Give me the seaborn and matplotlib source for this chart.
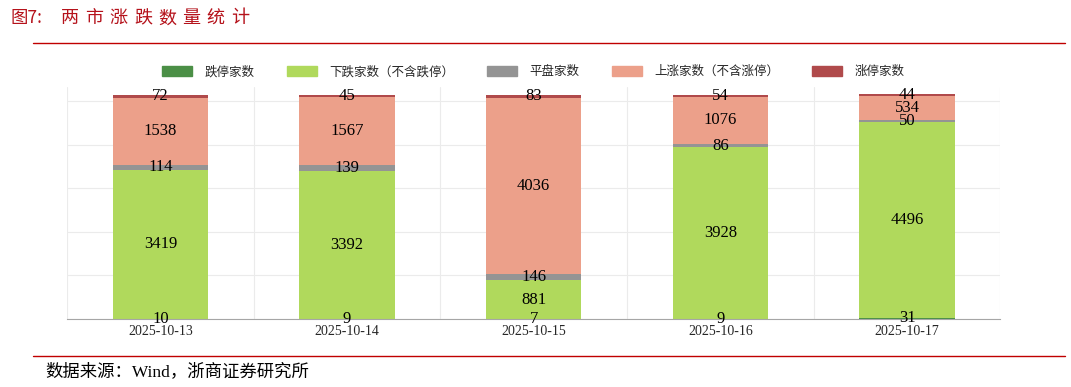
import numpy as np
import pandas as pd
import matplotlib.pyplot as plt
from matplotlib.patches import Patch
import seaborn as sns

dates = ["2025-10-13", "2025-10-14", "2025-10-15", "2025-10-16", "2025-10-17"]
limit_down = [10, 9, 7, 9, 31]
down = [3419, 3392, 881, 3928, 4496]
flat = [114, 139, 146, 86, 50]
up = [1538, 1567, 4036, 1076, 534]
limit_up = [72, 45, 83, 54, 44]

series_names = ["跌停家数", "下跌家数（不含跌停）", "平盘家数", "上涨家数（不含涨停）", "涨停家数"]
colors = ["#4b8f46", "#b0d95c", "#949494", "#eca08a", "#b04a4b"]

sns.set_style("white")
plt.rcParams['font.family'] = ['Liberation Serif', 'Noto Sans CJK SC']

fig = plt.figure(figsize=(10.71, 3.87), dpi=100)
ax = fig.add_axes([0.0626, 0.1757, 0.8715, 0.60])

# stacked bars, bottom up
layers = [limit_down, down, flat, up, limit_up]
bottom = np.zeros(len(dates))
for vals, name, col in zip(layers, series_names, colors):
    df = pd.DataFrame({"date": dates, "v": vals})
    sns.barplot(data=df, x="date", y="v", color=col, width=0.51,
                bottom=bottom, ax=ax, saturation=1, linewidth=0)
    for i, v in enumerate(vals):
        ax.text(i, bottom[i] + v / 2, str(v), ha="center", va="center",
                fontsize=12, color="black", family="Liberation Serif")
    bottom = bottom + np.array(vals)

ax.set_ylim(0, 5330)
ax.set_xlim(-0.5, len(dates) - 0.5)
ax.set_yticks(np.arange(0, 6000, 1000))
ax.set_yticklabels([])
ax.tick_params(axis="y", length=0)
ax.set_xticks(np.arange(-0.5, len(dates), 1), minor=True)
ax.tick_params(axis="x", which="both", length=0, labelsize=10, pad=4)
ax.grid(axis="y", color="#ebebeb", lw=0.8)
ax.grid(axis="x", which="minor", color="#ebebeb", lw=0.8)
ax.set_axisbelow(True)
ax.set_xlabel("")
ax.set_ylabel("")
for s in ["top", "right", "left"]:
    ax.spines[s].set_visible(False)
ax.spines["bottom"].set_color("#a6a6a6")

handles = [Patch(color=c, label=n) for n, c in zip(series_names, colors)]
fig.legend(handles=handles, ncol=5, loc="center", bbox_to_anchor=(0.498, 0.815),
           frameon=False, handlelength=2.4, handleheight=0.8,
           columnspacing=2.6, handletextpad=1.0,
           prop={"family": ["Noto Sans CJK SC"], "size": 9})

# title (letter-spaced) and rules
fig.text(0.010, 0.953, "图7:", color="#b5121b", fontsize=12.5,
         ha="left", va="center", family=["Noto Sans CJK SC"])
title = "两市涨跌数量统计"
for k, ch in enumerate(title):
    fig.text((61 + 24.3 * k) / 1071, 0.953, ch, color="#b5121b", fontsize=13,
             ha="left", va="center", family=["Noto Sans CJK SC"])
fig.add_artist(plt.Line2D([0.031, 0.994], [0.889, 0.889], color="#c00000", lw=1))
fig.add_artist(plt.Line2D([0.031, 0.994], [0.080, 0.080], color="#c00000", lw=1))
fig.text(0.042, 0.040, "数据来源：Wind，浙商证券研究所", color="black", fontsize=12.5,
         ha="left", va="center", family=["Liberation Serif", "Noto Sans CJK SC"])

fig.savefig("out.png", dpi=100)
